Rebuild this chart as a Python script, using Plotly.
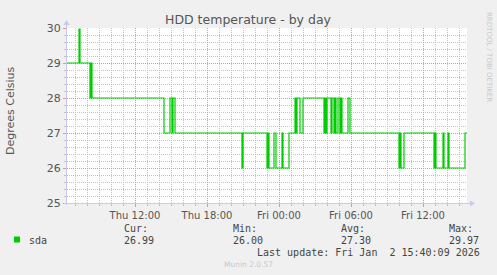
import plotly.graph_objects as go

# ---- data ----
times = [
    "2026-01-01 06:20", "2026-01-01 07:20", "2026-01-01 07:25", "2026-01-01 08:15",
    "2026-01-01 08:20", "2026-01-01 08:25", "2026-01-01 14:25", "2026-01-01 14:55",
    "2026-01-01 15:05", "2026-01-01 15:10", "2026-01-01 15:20", "2026-01-01 20:55",
    "2026-01-01 21:00", "2026-01-01 23:00", "2026-01-01 23:05", "2026-01-01 23:10",
    "2026-01-01 23:35", "2026-01-01 23:45", "2026-01-02 00:15", "2026-01-02 00:20",
    "2026-01-02 00:50", "2026-01-02 01:20", "2026-01-02 01:25", "2026-01-02 01:30",
    "2026-01-02 01:45", "2026-01-02 02:00", "2026-01-02 03:45", "2026-01-02 03:50",
    "2026-01-02 03:55", "2026-01-02 04:00", "2026-01-02 04:20", "2026-01-02 04:25",
    "2026-01-02 04:35", "2026-01-02 04:40", "2026-01-02 04:45", "2026-01-02 04:55",
    "2026-01-02 05:05", "2026-01-02 05:10", "2026-01-02 05:15", "2026-01-02 05:45",
    "2026-01-02 05:55", "2026-01-02 10:00", "2026-01-02 10:05", "2026-01-02 10:10",
    "2026-01-02 10:25", "2026-01-02 12:55", "2026-01-02 13:00", "2026-01-02 13:05",
    "2026-01-02 13:40", "2026-01-02 13:45", "2026-01-02 14:05", "2026-01-02 14:10",
    "2026-01-02 15:30", "2026-01-02 15:40",
]
temps = [
    29.0, 29.97, 29.0, 28.0,
    29.0, 28.0, 27.0, 28.0,
    27.0, 28.0, 27.0, 26.0,
    27.0, 26.0, 27.0, 26.0,
    27.0, 26.0, 27.0, 26.0,
    27.0, 28.0, 27.0, 28.0,
    27.0, 28.0, 27.0, 28.0,
    27.0, 28.0, 27.0, 28.0,
    27.0, 28.0, 27.0, 28.0,
    27.0, 28.0, 27.0, 28.0,
    27.0, 26.0, 27.0, 26.0,
    27.0, 26.0, 27.0, 26.0,
    27.0, 26.0, 27.0, 26.0,
    27.0, 26.99,
]
x_range = ["2026-01-01 06:20", "2026-01-02 15:40"]
y_range = [25, 30]
series_name = "sda"
stat_labels = ["Cur:", "Min:", "Avg:", "Max:"]
stat_values = ["26.99", "26.00", "27.30", "29.97"]
title_text = "HDD temperature - by day"
y_title = "Degrees Celsius"
last_update = "Last update: Fri Jan  2 15:40:09 2026"
footer = "Munin 2.0.57"
side_text = "RRDTOOL / TOBI OETIKER"

# ---- layout geometry (pixels) ----
W, H = 497, 275
L, R, T, B = 67, 467, 28, 203
PW, PH = R - L, B - T


def px(x):
    return (x - L) / PW


def py(y):
    return (B - y) / PH


GREEN = "#00CC00"
TXT = "#555555"
MINOR = "#C4C4C4"
MAJOR = "#E09494"
AXIS = "#C8C8F0"

fig = go.Figure()
fig.add_trace(go.Scatter(
    x=times, y=temps, mode="lines", line_shape="hv",
    line=dict(color=GREEN, width=1.2), showlegend=False, hoverinfo="skip",
))

fig.update_layout(
    width=W, height=H,
    margin=dict(l=L, r=W - R, t=T, b=H - B, pad=0),
    paper_bgcolor="#F0F0F0", plot_bgcolor="#FFFFFF",
    showlegend=False,
    font=dict(family="DejaVu Sans", size=10, color=TXT),
)

fig.update_xaxes(
    type="date", range=x_range, showline=False, zeroline=False,
    tick0="2026-01-01 00:00", dtick=6 * 3600 * 1000, tickformat="%a %H:%M",
    showgrid=True, gridcolor=MAJOR, griddash="1px,1px", gridwidth=1,
    ticks="outside", ticklen=3, tickcolor=MAJOR,
    tickfont=dict(family="DejaVu Sans", size=10, color=TXT),
    minor=dict(dtick=3600 * 1000, tick0="2026-01-01 00:00", showgrid=True,
               gridcolor=MINOR, griddash="1px,1px", gridwidth=1,
               ticks="outside", ticklen=2, tickcolor="#C0C0C0"),
)
fig.update_yaxes(
    range=y_range, showline=False, zeroline=False,
    tick0=25, dtick=1,
    showgrid=True, gridcolor=MAJOR, griddash="1px,1px", gridwidth=1,
    ticks="outside", ticklen=3, tickcolor=MAJOR,
    tickfont=dict(family="DejaVu Sans", size=11, color=TXT),
    minor=dict(dtick=0.2, tick0=25, showgrid=True, gridcolor=MINOR,
               griddash="1px,1px", gridwidth=1,
               ticks="outside", ticklen=2, tickcolor="#C0C0C0"),
)

shapes = [
    # axis lines
    dict(type="line", xref="paper", yref="paper", x0=px(L - 0.5), x1=px(L - 0.5),
         y0=py(B + 2), y1=py(T - 5), line=dict(color=AXIS, width=1)),
    dict(type="line", xref="paper", yref="paper", x0=px(L - 3), x1=px(R + 4),
         y0=py(B + 0.5), y1=py(B + 0.5), line=dict(color=AXIS, width=1)),
    # arrows
    dict(type="path", xref="paper", yref="paper",
         path=f"M {px(L - 3.5)},{py(T - 3)} L {px(L + 2.5)},{py(T - 3)} L {px(L - 0.5)},{py(T - 8)} Z",
         fillcolor=AXIS, line=dict(width=0)),
    dict(type="path", xref="paper", yref="paper",
         path=f"M {px(R + 3)},{py(B - 2.5)} L {px(R + 3)},{py(B + 3.5)} L {px(R + 8)},{py(B + 0.5)} Z",
         fillcolor=AXIS, line=dict(width=0)),
    # legend colour box
    dict(type="rect", xref="paper", yref="paper", x0=px(14), x1=px(20),
         y0=py(242.5), y1=py(236.5), fillcolor=GREEN, line=dict(width=0)),
]
fig.update_layout(shapes=shapes)

ann = []
ann.append(dict(text=title_text, x=px(248), y=py(20), xref="paper", yref="paper",
                showarrow=False, xanchor="center", yanchor="middle",
                font=dict(family="DejaVu Sans", size=12.5, color=TXT)))
ann.append(dict(text=y_title, x=px(11), y=py(110), xref="paper", yref="paper",
                showarrow=False, xanchor="center", yanchor="middle", textangle=-90,
                font=dict(family="DejaVu Sans", size=11, color=TXT)))
ann.append(dict(text=side_text, x=px(489), y=py(10), xref="paper", yref="paper",
                showarrow=False, xanchor="center", yanchor="top", textangle=90,
                font=dict(family="DejaVu Sans", size=7, color="#C8C8C8")))
mono = dict(family="DejaVu Sans Mono", size=10, color="#444444")
ann.append(dict(text=series_name, x=px(27), y=py(240), xref="paper", yref="paper",
                showarrow=False, xanchor="left", yanchor="middle", font=mono))
stat_x = [122, 231, 339, 447]
for sx, lab, val in zip(stat_x, stat_labels, stat_values):
    ann.append(dict(text=lab, x=px(sx), y=py(228), xref="paper", yref="paper",
                    showarrow=False, xanchor="left", yanchor="middle", font=mono))
    ann.append(dict(text=val, x=px(sx), y=py(240), xref="paper", yref="paper",
                    showarrow=False, xanchor="left", yanchor="middle", font=mono))
ann.append(dict(text=last_update.replace("  ", "&nbsp; "), x=px(482), y=py(252),
                xref="paper", yref="paper", showarrow=False, xanchor="right",
                yanchor="middle", font=mono))
ann.append(dict(text=footer, x=px(248), y=py(264), xref="paper", yref="paper",
                showarrow=False, xanchor="center", yanchor="middle",
                font=dict(family="DejaVu Sans", size=7.5, color="#C8C8C8")))
fig.update_layout(annotations=ann)

fig.write_html("out.html")
